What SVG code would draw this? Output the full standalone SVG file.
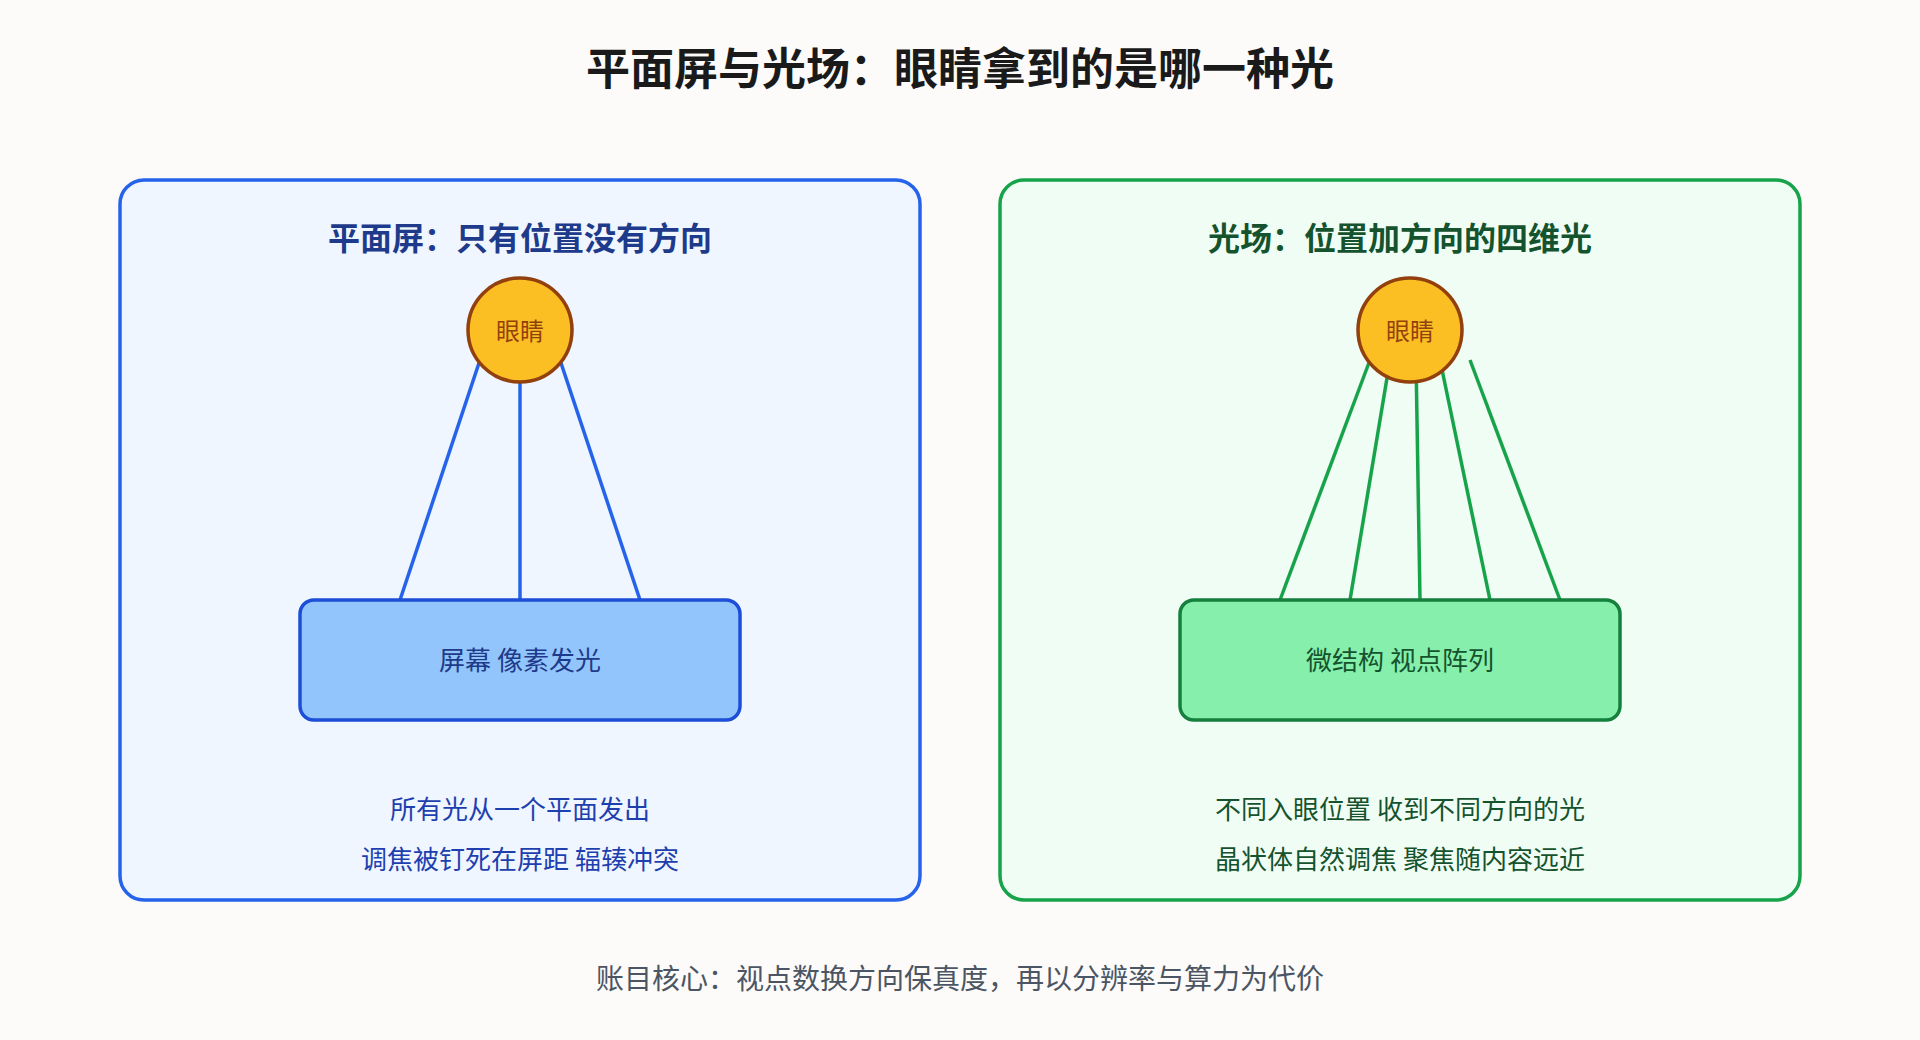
<svg xmlns="http://www.w3.org/2000/svg" width="1920" height="1040" viewBox="0 0 1920 1040">
  <style>
    text { font-family: "Noto Sans CJK SC", "Noto Sans", sans-serif; text-anchor: middle; dominant-baseline: central; }
    .title { font-size: 44px; font-weight: 700; fill: #1a1a1a; }
    .ptitle { font-size: 32px; font-weight: 700; }
    .eye circle { fill: #fbbf24; stroke: #92400e; stroke-width: 3.5; }
    .eye text { font-size: 24px; fill: #92400e; }
    .label { font-size: 26px; }
    .foot { font-size: 28px; fill: #4b5563; }
    .ray-b { stroke: #2563eb; stroke-width: 3.5; fill: none; }
    .ray-g { stroke: #16a34a; stroke-width: 3.5; fill: none; }
  </style>
  <rect x="0" y="0" width="1920" height="1040" fill="#fcfbf9"/>
  <text class="title" x="960" y="66">平面屏与光场：眼睛拿到的是哪一种光</text>

  <g id="panel-flat">
    <rect x="120" y="180" width="800" height="720" rx="24" fill="#eff6ff" stroke="#2563eb" stroke-width="3.5"/>
    <text class="ptitle" x="520" y="236" fill="#1e3a8a">平面屏：只有位置没有方向</text>
  </g>
  <g id="panel-lightfield">
    <rect x="1000" y="180" width="800" height="720" rx="24" fill="#f0fdf4" stroke="#16a34a" stroke-width="3.5"/>
    <text class="ptitle" x="1400" y="236" fill="#14532d">光场：位置加方向的四维光</text>
  </g>

  <g id="connectors">
    <line class="ray-b" x1="400" y1="600" x2="480" y2="360"/>
    <line class="ray-b" x1="520" y1="600" x2="520" y2="380"/>
    <line class="ray-b" x1="640" y1="600" x2="560" y2="360"/>
    <line class="ray-g" x1="1280" y1="600" x2="1370" y2="360"/>
    <line class="ray-g" x1="1350" y1="600" x2="1390" y2="360"/>
    <line class="ray-g" x1="1420" y1="600" x2="1416" y2="360"/>
    <line class="ray-g" x1="1490" y1="600" x2="1440" y2="360"/>
    <line class="ray-g" x1="1560" y1="600" x2="1470" y2="360"/>
  </g>

  <g id="eye-left" class="eye">
    <circle cx="520" cy="330" r="52"/>
    <text x="520" y="329">眼睛</text>
  </g>
  <g id="eye-right" class="eye">
    <circle cx="1410" cy="330" r="52"/>
    <text x="1410" y="329">眼睛</text>
  </g>

  <g id="screen">
    <rect x="300" y="600" width="440" height="120" rx="14" fill="#93c5fd" stroke="#1d4ed8" stroke-width="3.5"/>
    <text class="label" x="520" y="658" fill="#1e3a8a">屏幕 像素发光</text>
  </g>
  <g id="microstructure">
    <rect x="1180" y="600" width="440" height="120" rx="14" fill="#86efac" stroke="#15803d" stroke-width="3.5"/>
    <text class="label" x="1400" y="658" fill="#14532d">微结构 视点阵列</text>
  </g>

  <g id="note-flat">
    <text class="label" x="520" y="807" fill="#1e40af">所有光从一个平面发出</text>
    <text class="label" x="520" y="857" fill="#1e40af">调焦被钉死在屏距 辐辏冲突</text>
  </g>
  <g id="note-lightfield">
    <text class="label" x="1400" y="807" fill="#14532d">不同入眼位置 收到不同方向的光</text>
    <text class="label" x="1400" y="857" fill="#14532d">晶状体自然调焦 聚焦随内容远近</text>
  </g>

  <text class="foot" x="960" y="977">账目核心：视点数换方向保真度，再以分辨率与算力为代价</text>
</svg>
